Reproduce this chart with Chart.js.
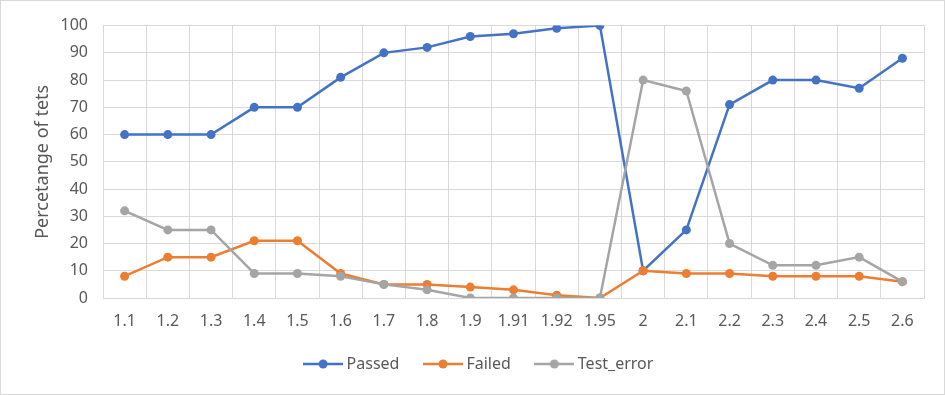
<!DOCTYPE html>
<html>
<head>
<meta charset="utf-8">
<script src="https://cdn.jsdelivr.net/npm/chart.js@4.4.1/dist/chart.umd.min.js"></script>
<style>
  html, body { margin: 0; padding: 0; background: #fff; }
  #wrap { width: 945px; height: 395px; box-sizing: border-box; border: 1px solid #d9d9d9; position: relative; }
  canvas { display: block; }
</style>
</head>
<body>
<div id="wrap"><canvas id="chart" width="943" height="393"></canvas></div>
<script>
const versions = ['1.1', '1.2', '1.3', '1.4', '1.5', '1.6', '1.7', '1.8', '1.9', '1.91', '1.92', '1.95', '2', '2.1', '2.2', '2.3', '2.4', '2.5', '2.6'];
const passed = [60, 60, 60, 70, 70, 81, 90, 92, 96, 97, 99, 100, 10, 25, 71, 80, 80, 77, 88];
const failed = [8, 15, 15, 21, 21, 9, 5, 5, 4, 3, 1, 0, 10, 9, 9, 8, 8, 8, 6];
const testError = [32, 25, 25, 9, 9, 8, 5, 3, 0, 0, 0, 0, 80, 76, 20, 12, 12, 15, 6];

const textColor = '#595959';
const gridColor = '#d9d9d9';
const fontFamily = '"Noto Sans", "Open Sans", sans-serif';

// little line+dot picture for the legend, like excel
function legendMarker(color) {
  const c = document.createElement('canvas');
  c.width = 40;
  c.height = 10;
  const g = c.getContext('2d');
  g.strokeStyle = color;
  g.lineWidth = 2.5;
  g.beginPath();
  g.moveTo(0, 5);
  g.lineTo(40, 5);
  g.stroke();
  g.fillStyle = color;
  g.beginPath();
  g.arc(20, 5, 4.5, 0, Math.PI * 2);
  g.fill();
  return c;
}

function series(label, data, color, order) {
  return {
    label: label,
    data: data,
    borderColor: color,
    backgroundColor: color,
    borderWidth: 2.5,
    pointRadius: 4.5,
    pointHoverRadius: 4.5,
    pointBorderWidth: 0,
    tension: 0,
    order: order,
    marker: legendMarker(color)
  };
}

// legend sits a bit right of centre in the original
const legendShift = {
  id: 'legendShift',
  afterLayout(chart) {
    chart.legend.left += 18;
    chart.legend.right += 18;
  }
};

const ctx = document.getElementById('chart').getContext('2d');
new Chart(ctx, {
  type: 'line',
  data: {
    labels: versions,
    datasets: [
      series('Passed', passed, '#4472C4', 2),
      series('Failed', failed, '#ED7D31', 1),
      series('Test_error', testError, '#A5A5A5', 0)
    ]
  },
  options: {
    responsive: false,
    animation: false,
    layout: { padding: { top: 22, right: 20, bottom: 12, left: 0 } },
    plugins: {
      tooltip: { enabled: false },
      legend: {
        position: 'bottom',
        labels: {
          color: textColor,
          font: { family: fontFamily, size: 16 },
          usePointStyle: true,
          pointStyleWidth: 31,
          padding: 28,
          sort: (a, b) => a.datasetIndex - b.datasetIndex,
          generateLabels: (chart) => {
            const items = Chart.defaults.plugins.legend.labels.generateLabels(chart);
            items.forEach(it => {
              it.pointStyle = chart.data.datasets[it.datasetIndex].marker;
            });
            return items;
          }
        }
      }
    },
    scales: {
      x: {
        offset: true,
        grid: { offset: true, color: gridColor, drawTicks: false },
        border: { color: gridColor },
        ticks: {
          color: textColor,
          font: { family: fontFamily, size: 16 },
          padding: 14,
          maxRotation: 0,
          autoSkip: false
        },
        afterFit: (s) => { s.height = 30; }
      },
      y: {
        min: 0,
        max: 100,
        grid: { color: gridColor, drawTicks: false },
        border: { display: false },
        ticks: {
          stepSize: 10,
          color: textColor,
          font: { family: fontFamily, size: 16 },
          padding: 15
        },
        title: {
          display: true,
          text: 'Percetange of tets',
          color: textColor,
          font: { family: fontFamily, size: 18 },
          padding: { top: 31, bottom: 0 }
        },
        afterFit: (s) => { s.width = 102; }
      }
    }
  },
  plugins: [legendShift]
});
</script>
</body>
</html>
